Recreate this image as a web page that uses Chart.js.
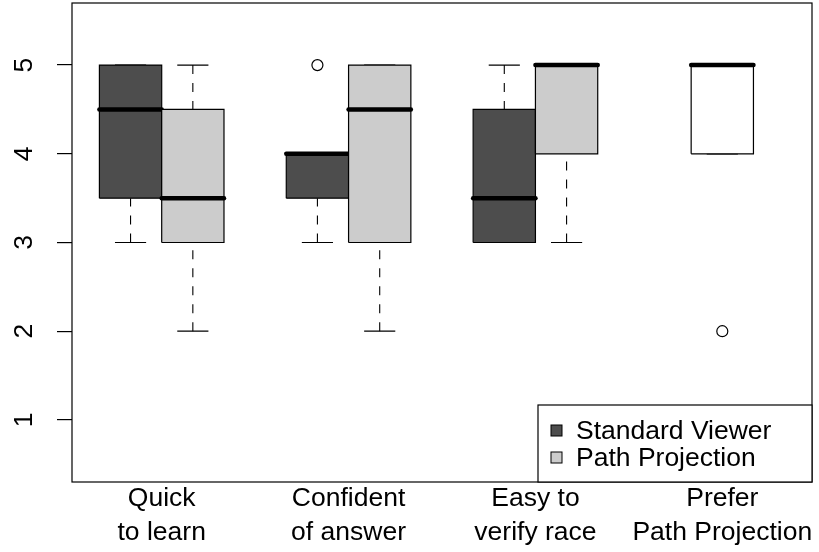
<!DOCTYPE html>
<html><head><meta charset="utf-8">
<script src="https://cdn.jsdelivr.net/npm/chart.js@4/dist/chart.umd.min.js"></script>
<style>html,body{margin:0;padding:0;background:#fff}#wrap{width:819px;height:552px}</style>
</head><body><div id="wrap"><canvas id="c" width="819" height="552"></canvas></div>
<script>
// ---- data ----
const categories = [["Quick","to learn"],["Confident","of answer"],["Easy to","verify race"],["Prefer","Path Projection"]];
const seriesNames = ["Standard Viewer","Path Projection"];
const seriesColors = ["#4d4d4d","#cccccc"];
const singleColor = "#ffffff";
// box stats: [lower whisker, Q1, median, Q3, upper whisker]
const standardViewer = [[3,3.5,4.5,5,5],[3,3.5,4,4,4],[3,3,3.5,4.5,5]];
const pathProjection = [[2,3,3.5,4.5,5],[2,3,4.5,5,5],[3,4,5,5,5]];
const preferPathProjection = [4,4,5,5,5];
const standardOutliers = [[],[5],[]];
const pathOutliers = [[],[],[]];
const preferOutliers = [2];
const yTicks = [1,2,3,4,5];

// ---- layout of groups (R style: at = 1,2, 4,5, 7,8, 10.5) ----
const groupCenter = i => 1.5 + 3*i;
const xLo = 0.5, xHi = 3*categories.length - 0.5;
const xPad = 0.04*(xHi - xLo);
const yLo = 0.5, yHi = 5.5, yPad = 0.04*(yHi - yLo);

const FONT = '"Liberation Sans", Arial, Helvetica, sans-serif';
const FS = 26.5;
const LW = 1.2;

const boxes = [];
standardViewer.forEach((s,i)=>{
  boxes.push({pos: groupCenter(i)-0.5, stats: s, out: standardOutliers[i], color: seriesColors[0]});
  boxes.push({pos: groupCenter(i)+0.5, stats: pathProjection[i], out: pathOutliers[i], color: seriesColors[1]});
});
boxes.push({pos: groupCenter(3), stats: preferPathProjection, out: preferOutliers, color: singleColor});

const datasets = [];
const base = {pointRadius:0, pointHoverRadius:0, tension:0, spanGaps:false, fill:false, borderColor:'#000'};
boxes.forEach(b=>{
  const p = b.pos, [lo,q1,med,q3,hi] = b.stats;
  datasets.push(Object.assign({}, base, {
    data:[{x:p,y:lo},{x:p,y:q1},{x:p,y:null},{x:p,y:hi},{x:p,y:q3}],
    borderWidth:1.1, borderDash:[9,9]}));
  datasets.push(Object.assign({}, base, {
    data:[{x:p-0.25,y:lo},{x:p+0.25,y:lo},{x:p,y:null},{x:p-0.25,y:hi},{x:p+0.25,y:hi}],
    borderWidth:LW}));
  datasets.push(Object.assign({}, base, {
    data:[{x:p-0.5,y:q3},{x:p+0.5,y:q3}],
    borderWidth:0, borderColor:'rgba(0,0,0,0)', backgroundColor:b.color, fill:{value:q1}}));
  datasets.push(Object.assign({}, base, {
    data:[{x:p-0.5,y:q1},{x:p+0.5,y:q1},{x:p+0.5,y:q3},{x:p-0.5,y:q3},{x:p-0.5,y:q1}],
    borderWidth:LW, borderJoinStyle:'miter'}));
  datasets.push(Object.assign({}, base, {
    data:[{x:p-0.5,y:med},{x:p+0.5,y:med}],
    borderWidth:4.5, borderCapStyle:'round'}));
  if (b.out.length) datasets.push(Object.assign({}, base, {
    data:b.out.map(v=>({x:p,y:v})), showLine:false,
    pointRadius:5.5, pointBorderWidth:LW, pointBorderColor:'#000', pointBackgroundColor:'rgba(0,0,0,0)'}));
});
datasets.forEach((d,i)=>{ d.order = -i; });

const framePlugin = {
  id:'frameLegend',
  afterDraw(chart){
    const {ctx, chartArea:a} = chart;
    ctx.save();
    ctx.strokeStyle='#000'; ctx.lineWidth=LW;
    ctx.strokeRect(a.left, a.top, a.right-a.left, a.bottom-a.top);
    // legend (bottom right, inside plot)
    const w = 274, h = 77;
    const L = a.right - w, T = a.bottom - h;
    ctx.fillStyle='#fff'; ctx.fillRect(L,T,w,h);
    ctx.strokeRect(L,T,w,h);
    ctx.font = FS + 'px ' + FONT; ctx.textBaseline='alphabetic'; ctx.textAlign='left';
    seriesNames.forEach((n,i)=>{
      const cy = T + 25.5 + i*27;
      ctx.fillStyle = seriesColors[i]; ctx.fillRect(L+13, cy-5.5, 11, 11);
      ctx.lineWidth = 1; ctx.strokeRect(L+13, cy-5.5, 11, 11);
      ctx.fillStyle='#000'; ctx.fillText(n, L+38, cy + 8.5);
    });
    ctx.restore();
  }
};

new Chart(document.getElementById('c'), {
  type:'line',
  data:{datasets},
  plugins:[framePlugin],
  options:{
    responsive:false, animation:false, events:[],
    layout:{autoPadding:false, padding:{top:3,right:7,left:0,bottom:0}},
    plugins:{legend:{display:false}, tooltip:{enabled:false}},
    scales:{
      x:{type:'linear', min:xLo-xPad, max:xHi+xPad,
        afterBuildTicks: s => { s.ticks = categories.map((c,i)=>({value:groupCenter(i)})); },
        ticks:{callback:(v,i)=>categories[i], font:{family:FONT, size:FS, lineHeight:'34px'}, color:'#000',
          padding:0, maxRotation:0, minRotation:0, autoSkip:false},
        grid:{display:false, drawTicks:false}, border:{display:false},
        afterFit: s => { s.height = 70; s.paddingLeft = 0; s.paddingRight = 0; s.paddingTop = 0; s.paddingBottom = 0; }
      },
      y:{type:'linear', min:yLo-yPad, max:yHi+yPad,
        afterBuildTicks: s => { s.ticks = yTicks.map(v=>({value:v})); },
        ticks:{callback:v=>String(v), font:{family:FONT, size:FS}, color:'#000',
          minRotation:90, maxRotation:90, crossAlign:'center', padding:25},
        grid:{display:true, drawOnChartArea:false, drawTicks:true, tickLength:15, color:'#000', lineWidth:LW},
        border:{display:false},
        afterFit: s => { s.width = 72; s.paddingLeft = 0; s.paddingRight = 0; s.paddingTop = 0; s.paddingBottom = 0; }
      }
    }
  }
});
</script></body></html>
